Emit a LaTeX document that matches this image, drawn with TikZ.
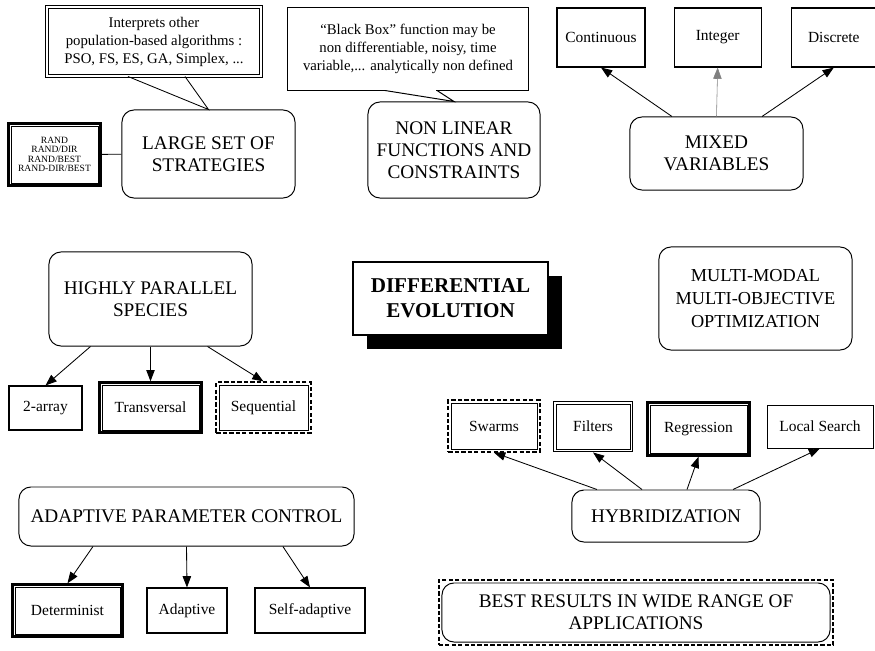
\documentclass[tikz,border=0pt]{standalone}
\usepackage{fontspec}
\setmainfont{Liberation Serif}
\usetikzlibrary{positioning, arrows.meta, calc, shadows, fit}

\begin{document}
\begin{tikzpicture}[
        x={(0.025cm,0)}, y={(0,-0.025cm)},
        every node/.style={font=\fontsize{11}{13}\selectfont},
        % Estilos de los bloques
        topic/.style={rectangle, rounded corners=0.3cm, draw=black, line width=0.7pt, align=center, inner sep=2pt, font=\fontsize{13.7}{15.5}\selectfont},
        leaf/.style={rectangle, draw=black, line width=0.8pt, align=center, inner sep=2pt, minimum height=1.125cm},
        note/.style={rectangle, draw=black, line width=0.7pt, fill=white, align=center, font=\fontsize{10.5}{12.8}\selectfont},
        frame/.style={rectangle, draw=black, line width=1.6pt, inner sep=1.6pt},
        dashframe/.style={rectangle, draw=black, line width=1.4pt, dash pattern=on 3pt off 1.6pt, inner sep=1.6pt},
        arrow/.style={line width=0.6pt, -{Triangle[length=8pt, width=6pt]}}
    ]

    \useasboundingbox (0,0) rectangle (875,651);

    % Nodos - estrategias y funciones
    \node (interp) [note, double, double distance=1.4pt, line width=0.7pt, minimum width=5.35cm, minimum height=1.725cm] at (154,41.5) {Interprets other\\population-based algorithms :\\PSO, FS, ES, GA, Simplex, ...};

    \node (strat) [topic, minimum width=4.325cm, minimum height=2.2cm] at (208.5,154) {LARGE SET OF\\STRATEGIES};

    \node (rand) [leaf, line width=0.5pt, minimum width=2.175cm, minimum height=1.425cm, font=\fontsize{6.8}{6.8}\selectfont] at (54.5,154.5) {RAND\\RAND/DIR\\RAND/BEST\\RAND-DIR/BEST};
    \node (randbox) [frame, fit=(rand)] {};

    \node (bbox) [note, minimum width=6cm, minimum height=2.05cm] at (408,49) {``Black Box'' function may be\\non differentiable, noisy, time\\variable,... analytically non defined};

    \node (nlf) [topic, minimum width=4.3cm, minimum height=2.4cm] at (454,150) {NON LINEAR\\FUNCTIONS AND\\CONSTRAINTS};

    % Nodos - variables
    \node (cont) [leaf, minimum width=2.2cm, minimum height=1.475cm] at (601,37.5) {Continuous};
    \node (integ) [leaf, right=0.7cm of cont, minimum width=2.175cm, minimum height=1.475cm] {Integer};
    \node (disc) [leaf, right=0.725cm of integ, minimum width=2.125cm, minimum height=1.475cm] {Discrete};

    \node (mixed) [topic, minimum width=4.325cm, minimum height=1.825cm] at (716.5,153.5) {MIXED\\VARIABLES};

    % Nodos - especies
    \node (hps) [topic, minimum width=5.075cm, minimum height=2.35cm] at (150.5,299) {HIGHLY PARALLEL\\SPECIES};

    \node (arr) [leaf, minimum width=1.825cm, minimum height=1.1cm] at (45.5,408) {2-array};
    \node (trans) [leaf, line width=0.5pt, minimum width=2.425cm] at (150.5,407.5) {Transversal};
    \node (transbox) [frame, fit=(trans)] {};
    \node (seq) [leaf, line width=0.5pt, minimum width=2.225cm] at (263.5,407.5) {Sequential};
    \node (seqbox) [dashframe, fit=(seq)] {};

    % Nodo central
    \node (de) [rectangle, draw=black, line width=1.3pt, fill=white, align=center, drop shadow={shadow xshift=0.35cm, shadow yshift=-0.35cm, fill=black, opacity=1}, minimum width=4.875cm, minimum height=1.825cm, font=\bfseries\fontsize{15}{17.8}\selectfont] at (450.5,298.5) {DIFFERENTIAL\\EVOLUTION};

    \node (mmo) [topic, minimum width=4.825cm, minimum height=2.575cm, font=\fontsize{13}{16.5}\selectfont] at (755.5,298.5) {MULTI-MODAL\\MULTI-OBJECTIVE\\OPTIMIZATION};

    % Nodos - hibridacion
    \node (swarm) [leaf, line width=0.5pt, minimum width=2.15cm, minimum height=1.15cm] at (494,426) {Swarms};
    \node (swarmbox) [dashframe, fit=(swarm)] {};
    \node (filt) [leaf, line width=0.5pt, minimum width=1.85cm] at (593,426.5) {Filters};
    \node (filtbox) [frame, line width=1.2pt, fit=(filt)] {};
    \node (regr) [leaf, line width=0.5pt, minimum width=2.425cm, minimum height=1.2cm] at (698.5,429) {Regression};
    \node (regrbox) [frame, fit=(regr)] {};
    \node (local) [leaf, line width=0.5pt, minimum width=2.65cm, minimum height=1.075cm] at (820,426.5) {Local Search};

    \node (hyb) [topic, minimum width=4.7cm, minimum height=1.3cm] at (666,516) {HYBRIDIZATION};

    \node (best) [topic, minimum width=9.7cm, minimum height=1.475cm] at (636,612.5) {BEST RESULTS IN WIDE RANGE OF\\APPLICATIONS};
    \node (bestbox) [dashframe, inner sep=2pt, fit=(best)] {};

    % Nodos - control de parametros
    \node (apc) [topic, minimum width=8.375cm, minimum height=1.475cm] at (186.5,516.5) {ADAPTIVE PARAMETER CONTROL};

    \node (det) [leaf, line width=0.5pt, minimum width=2.625cm, minimum height=1.175cm] at (67.5,610.5) {Determinist};
    \node (detbox) [frame, fit=(det)] {};
    \node (adapt) [leaf, minimum width=2cm] at (187,610.5) {Adaptive};
    \node (selfad) [leaf, minimum width=2.75cm] at (310,610.5) {Self-adaptive};

    % Conexiones
    \draw [line width=0.6pt] (randbox) -- (strat);
    \draw [line width=0.6pt] ([xshift=-0.65cm]interp.south) -- (strat.north) -- ([xshift=0.775cm]interp.south);

    \draw [white, line width=1.5pt] ([xshift=-0.55cm]bbox.south) -- ([xshift=0.7cm]bbox.south);
    \draw [line width=0.7pt] ([xshift=-0.575cm]bbox.south) -- (nlf.north) -- ([xshift=0.725cm]bbox.south);

    \draw [arrow] ([xshift=-1.1125cm]mixed.north) -- (cont.south);
    \draw [arrow, gray, line width=0.4pt] (mixed.north) -- (integ.south);
    \draw [arrow] ([xshift=1.1375cm]mixed.north) -- (disc.south);

    \draw [arrow] ([xshift=-1.5cm]hps.south) -- (arr.north);
    \draw [arrow] (hps.south) -- (transbox.north);
    \draw [arrow] ([xshift=1.425cm]hps.south) -- (seqbox.north);

    \draw [arrow] ([xshift=-1.725cm]hyb.north) -- (swarmbox.south);
    \draw [arrow] ([xshift=-0.6cm]hyb.north) -- (filtbox.south);
    \draw [arrow] ([xshift=0.525cm]hyb.north) -- (regrbox.south);
    \draw [arrow] ([xshift=1.675cm]hyb.north) -- (local.south);

    \draw [arrow] ([xshift=-2.3375cm]apc.south) -- (detbox.north);
    \draw [arrow] (apc.south) -- (adapt.north);
    \draw [arrow] ([xshift=2.41cm]apc.south) -- (selfad.north);

\end{tikzpicture}
\end{document}
